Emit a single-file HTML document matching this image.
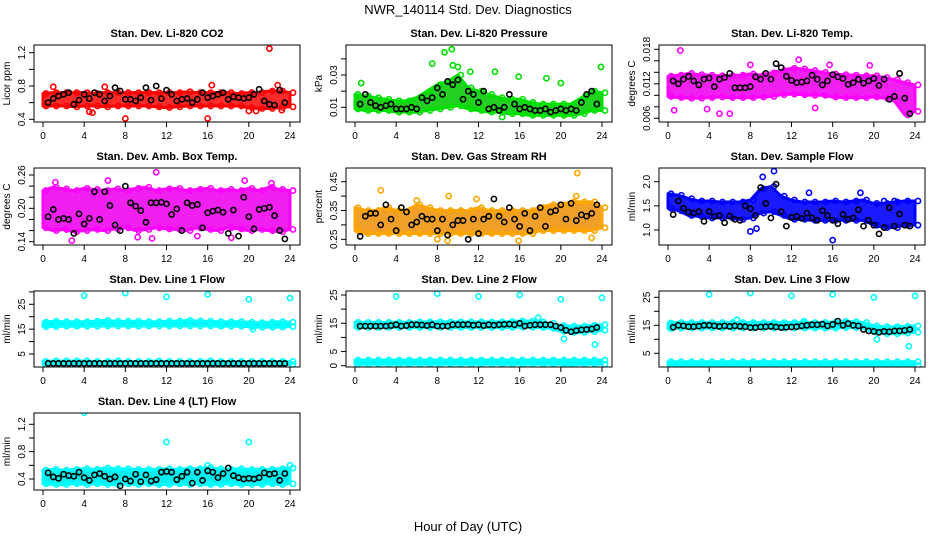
<!DOCTYPE html>
<html><head><meta charset="utf-8">
<style>
body{margin:0;background:#fff;}
svg{display:block;font-family:"Liberation Sans",sans-serif;}
</style></head>
<body>
<svg id="c" width="936" height="540" viewBox="0 0 936 540">
<text x="468" y="14" text-anchor="middle" font-size="13">NWR_140114 Std. Dev. Diagnostics</text>
<text x="468" y="531" text-anchor="middle" font-size="13">Hour of Day (UTC)</text>
</svg>
<script>
const bandHours=[0,1,2,3,4,5,6,7,8,9,10,11,12,13,14,15,16,17,18,19,20,21,22,23,24];
const blackHours=[0.5,1,1.5,2,2.5,3,3.5,4,4.5,5,5.5,6,6.5,7,7.5,8,8.5,9,9.5,10,10.5,11,11.5,12,12.5,13,13.5,14,14.5,15,15.5,16,16.5,17,17.5,18,18.5,19,19.5,20,20.5,21,21.5,22,22.5,23,23.5];
const xTicks=[0,4,8,12,16,20,24];

const co2Lo=[0.56,0.56,0.56,0.55,0.56,0.56,0.55,0.56,0.56,0.56,0.56,0.55,0.54,0.55,0.56,0.56,0.56,0.56,0.56,0.56,0.54,0.53,0.53,0.54,0.55];
const co2Hi=[0.71,0.72,0.72,0.72,0.72,0.71,0.72,0.72,0.72,0.72,0.72,0.72,0.72,0.72,0.73,0.72,0.72,0.72,0.72,0.71,0.72,0.72,0.74,0.74,0.72];
const co2OutH=[22,8,16,4.5,4.8,20,20.7,23.2,1,16.4,22.8,6];
const co2OutV=[1.25,0.41,0.41,0.49,0.48,0.5,0.5,0.51,0.79,0.81,0.81,0.79];
const co2Black=[0.6,0.65,0.68,0.7,0.72,0.58,0.63,0.7,0.65,0.72,0.7,0.62,0.68,0.78,0.74,0.64,0.64,0.62,0.66,0.78,0.63,0.8,0.65,0.75,0.7,0.62,0.64,0.65,0.6,0.64,0.72,0.66,0.68,0.7,0.72,0.64,0.67,0.66,0.65,0.66,0.7,0.76,0.62,0.58,0.57,0.75,0.6];
const prLo=[0.009,0.008,0.008,0.008,0.007,0.007,0.007,0.008,0.009,0.01,0.011,0.009,0.008,0.007,0.007,0.006,0.006,0.005,0.005,0.005,0.005,0.005,0.006,0.008,0.008];
const prHi=[0.018,0.017,0.016,0.015,0.014,0.014,0.016,0.02,0.024,0.026,0.03,0.022,0.02,0.018,0.016,0.015,0.015,0.013,0.012,0.012,0.012,0.012,0.016,0.02,0.019];
const prOutH=[8.7,9.4,9.5,7.5,10,13.6,11.2,15.9,18.6,23.9,14.3,20,0.6];
const prOutV=[0.044,0.046,0.036,0.037,0.035,0.032,0.032,0.029,0.028,0.035,0.004,0.025,0.025];
const prBlack=[0.012,0.018,0.013,0.011,0.01,0.011,0.012,0.009,0.009,0.009,0.01,0.009,0.016,0.014,0.016,0.022,0.018,0.026,0.024,0.027,0.015,0.02,0.018,0.013,0.02,0.009,0.01,0.008,0.01,0.018,0.012,0.009,0.01,0.009,0.008,0.008,0.009,0.007,0.008,0.009,0.008,0.009,0.008,0.013,0.018,0.02,0.012];
const tpLo=[0.0098,0.0096,0.0095,0.0095,0.0096,0.0097,0.0096,0.0096,0.0096,0.0097,0.0098,0.0101,0.0102,0.0101,0.01,0.01,0.0097,0.0096,0.0096,0.0096,0.0097,0.0095,0.009,0.0066,0.0072];
const tpHi=[0.0133,0.0135,0.0138,0.0136,0.0135,0.0134,0.0134,0.0135,0.0137,0.0135,0.0139,0.0143,0.0147,0.0146,0.0143,0.014,0.0137,0.0136,0.0135,0.0134,0.0134,0.0131,0.0127,0.0122,0.0118];
const tpOutH=[1.2,0.6,5,6,3.8,14.3,12.7,19.6,15.7,8];
const tpOutV=[0.0178,0.0074,0.0068,0.0068,0.0076,0.0078,0.0162,0.0152,0.0153,0.0153];
const tpBlack=[0.0125,0.012,0.0128,0.0133,0.0125,0.0118,0.0128,0.013,0.0115,0.0128,0.0131,0.0138,0.0113,0.0113,0.0113,0.0115,0.0132,0.0128,0.0138,0.0128,0.0155,0.0148,0.0133,0.0126,0.0122,0.0123,0.0125,0.0135,0.0128,0.0118,0.0125,0.0136,0.0132,0.0129,0.0119,0.0122,0.0128,0.0121,0.0125,0.0129,0.0117,0.0128,0.0093,0.0098,0.0138,0.0095,0.0068];
const abLo=[0.165,0.16,0.162,0.158,0.16,0.162,0.16,0.163,0.165,0.16,0.162,0.165,0.163,0.162,0.16,0.165,0.162,0.16,0.165,0.163,0.16,0.162,0.16,0.158,0.162];
const abHi=[0.232,0.238,0.235,0.232,0.236,0.234,0.232,0.235,0.232,0.236,0.238,0.232,0.235,0.236,0.232,0.234,0.236,0.232,0.234,0.232,0.236,0.232,0.238,0.234,0.232];
const abOutH=[11,2.8,10.6,9.2,15,19.6,6.3,1.2,22.2,18.3];
const abOutV=[0.265,0.142,0.146,0.148,0.15,0.25,0.25,0.247,0.245,0.147];
const abBlack=[0.185,0.198,0.18,0.182,0.18,0.155,0.19,0.172,0.182,0.23,0.18,0.23,0.205,0.17,0.16,0.24,0.21,0.204,0.196,0.175,0.21,0.21,0.211,0.208,0.189,0.199,0.16,0.21,0.205,0.207,0.165,0.192,0.195,0.197,0.193,0.155,0.197,0.15,0.22,0.185,0.163,0.198,0.2,0.202,0.187,0.16,0.145];
const rhLo=[0.28,0.27,0.27,0.27,0.27,0.27,0.27,0.27,0.27,0.27,0.27,0.27,0.27,0.27,0.27,0.27,0.27,0.27,0.28,0.28,0.28,0.28,0.28,0.28,0.29];
const rhHi=[0.36,0.35,0.35,0.36,0.35,0.35,0.37,0.36,0.35,0.35,0.35,0.35,0.36,0.35,0.35,0.35,0.35,0.35,0.36,0.37,0.37,0.38,0.38,0.38,0.36];
const rhOutH=[2.5,9.1,21.6,21.5,15.9,8,9,23,11.8,6];
const rhOutV=[0.42,0.40,0.48,0.40,0.245,0.25,0.245,0.255,0.39,0.385];
const rhBlack=[0.26,0.33,0.34,0.34,0.3,0.37,0.32,0.28,0.36,0.345,0.3,0.31,0.33,0.32,0.32,0.28,0.32,0.265,0.3,0.315,0.315,0.25,0.32,0.27,0.32,0.33,0.39,0.33,0.31,0.36,0.32,0.295,0.34,0.28,0.33,0.36,0.295,0.345,0.35,0.37,0.32,0.375,0.315,0.335,0.33,0.34,0.37];
const sfLo=[1.45,1.4,1.3,1.28,1.25,1.25,1.25,1.22,1.25,1.35,1.38,1.3,1.22,1.22,1.2,1.2,1.2,1.2,1.2,1.2,1.1,1.05,1.05,1.1,1.1];
const sfHi=[1.75,1.72,1.65,1.6,1.6,1.58,1.58,1.58,1.62,1.85,1.9,1.7,1.62,1.58,1.58,1.58,1.6,1.58,1.6,1.62,1.55,1.55,1.58,1.6,1.6];
const sfOutH=[9.2,10.3,16,8.6,8,13.7,18.7,21,22];
const sfOutV=[2.1,2.22,0.79,1.03,0.97,1.77,1.77,1.6,1.6];
const sfBlack=[1.32,1.6,1.45,1.37,1.35,1.38,1.18,1.38,1.28,1.3,1.15,1.29,1.22,1.2,1.5,1.44,1.3,1.88,1.55,1.25,1.95,1.38,1.08,1.26,1.28,1.24,1.35,1.25,1.2,1.4,1.3,1.2,1.13,1.32,1.22,1.25,1.42,1.08,1.2,1.1,0.92,1.05,1.46,1.08,1.33,1.1,1.08];
const l1Lo=[16,16,16.2,16.2,16.2,16.2,16.3,16.3,16.3,16.2,16.3,16.3,16.3,16.3,16.3,16.3,16.3,16.2,16.2,16.2,16,15.8,15.8,15.8,16];
const l1Hi=[17.8,18.2,18,18,18,18.2,18.5,18.2,18.2,18.2,18,18,18.2,18.2,18.5,18.3,18.2,18,18,18,17.8,17.6,17.8,18,17.8];
const l1LowLo=[0.8,0.8,0.8,0.8,0.8,0.8,0.8,0.8,0.8,0.8,0.8,0.8,0.8,0.8,0.8,0.8,0.8,0.8,0.8,0.8,0.8,0.8,0.8,0.8,0.8];
const l1LowHi=[2,2.2,2.2,2.2,2.2,2,2,2.2,2,2,2,2.2,2,2,2,2,2.2,2,2,2,2,2,2,2,2];
const l1OutH=[4,8,12,16,20,24,20.4,0.2];
const l1OutV=[28.5,29.5,28,29,27,27.5,15,1.8];
const l1Black=[1.2,1.2,1.2,1.2,1.2,1.2,1.2,1.2,1.2,1.2,1.2,1.2,1.2,1.2,1.2,1.2,1.2,1.2,1.2,1.2,1.2,1.2,1.2,1.2,1.2,1.2,1.2,1.2,1.2,1.2,1.2,1.2,1.2,1.2,1.2,1.2,1.2,1.2,1.2,1.2,1.2,1.2,1.2,1.2,1.2,1.2,1.2];
const l2Lo=[13.5,13.5,13.5,13.5,13.5,13.5,13.5,13.5,13.5,13.5,13.5,13.5,13.5,13.5,13.5,13.5,13.6,13.6,13.5,13.2,12.2,11.8,11.8,12,12.5];
const l2Hi=[15.3,15.3,15.3,15.3,15.3,15.3,15.5,15.5,15.5,15.5,15.5,15.5,15.5,15.5,15.5,15.6,15.8,15.8,15.5,15,14.2,14,14,14.3,14.5];
const l2LowLo=[0.5,0.5,0.5,0.5,0.5,0.5,0.5,0.5,0.5,0.5,0.5,0.5,0.5,0.5,0.5,0.5,0.5,0.5,0.5,0.5,0.5,0.3,0.5,0.5,0.5];
const l2LowHi=[2,2,2,2,2,2,2,2,2,2,2,2,2,2,2,2,2,2,2,2,2,2,2,2,2];
const l2OutH=[4,8,12,16,20,24,20.3,23.3,17.8];
const l2OutV=[24.5,25.5,24.5,25,23.5,24,9.5,7.5,17];
const l2Black=[14,14,14,14,14,14,14.2,14.5,14,14.2,14.5,14.5,14.4,14.2,14.5,14,14,14,14.5,14.5,14.5,14.6,14.3,14.5,14.2,14.5,14.3,14.5,14.6,14.7,14.5,15,14,14.3,14.5,14.5,14.5,14.5,14,13.5,12.5,12,12.4,12.7,12.8,13,13.5];
const l3Lo=[13.8,14,14,14,14,14,14,14,14,14,14,14,14,14,14,14,14,14.2,14.2,14,12.5,12,12,12.2,12.5];
const l3Hi=[15.8,16,16,16,16,16,16,16,16,16,16,16,16,16,16,16,16.2,16.4,16.3,16,14.8,14.5,14.5,14.6,14.8];
const l3LowLo=[0.6,0.6,0.6,0.6,0.6,0.6,0.6,0.6,0.6,0.6,0.6,0.6,0.6,0.6,0.6,0.6,0.6,0.6,0.6,0.6,0.6,0.6,0.6,0.6,0.6];
const l3LowHi=[2,2,2,2,2,2,2,2,2,2,2,2,2,2,2,2,2,2,2,2,2,2,2,2,2];
const l3OutH=[4,8,12,16,20,24,20.3,23.4,13.2,6.7];
const l3OutV=[26,26.5,25.5,26,25,25.5,10,7.5,16.5,17];
const l3Black=[14.3,15,14.8,14.5,14.5,14.7,15,15,14.8,14.6,14.8,14.6,14.8,14.6,14.5,14.2,14.2,14.4,14.5,14.6,14.4,14.2,14.3,14.4,14.5,14.8,15,15.2,15.2,15.4,14.8,15.3,16.5,15,15.6,15,14.8,13.5,13,12.8,12.5,12.8,12.7,13,13,13.2,13.5];
const l4Lo=[0.33,0.32,0.32,0.33,0.32,0.33,0.32,0.32,0.33,0.32,0.33,0.32,0.32,0.33,0.32,0.33,0.32,0.32,0.33,0.32,0.32,0.32,0.33,0.32,0.33];
const l4Hi=[0.53,0.54,0.53,0.54,0.55,0.54,0.56,0.55,0.55,0.54,0.54,0.54,0.55,0.54,0.55,0.55,0.57,0.55,0.54,0.55,0.54,0.54,0.54,0.55,0.56];
const l4OutH=[4,12,20,24,16];
const l4OutV=[1.37,0.94,0.94,0.6,0.6];
const l4Black=[0.49,0.43,0.41,0.47,0.45,0.44,0.5,0.42,0.38,0.46,0.48,0.44,0.4,0.43,0.3,0.4,0.37,0.47,0.36,0.46,0.37,0.39,0.5,0.51,0.5,0.39,0.44,0.5,0.34,0.5,0.38,0.52,0.5,0.42,0.48,0.56,0.45,0.42,0.4,0.41,0.4,0.42,0.49,0.47,0.48,0.38,0.48];

const colX0=[43,355,668], rowTop=[45,168,291,413], rowBot=[122,245,367,490];
const panels=[
 {name:'co2',title:'Stan. Dev. Li-820 CO2',ylab:'Licor ppm',c:0,r:0,col:'#ff0000',fill:'#ff2a2a',ref:[0.4,119.3,1.2,52.7],ticks:[0.4,0.6,0.8,1.0,1.2],labels:['0.4','','0.8','','1.2'],bands:[[co2Lo,co2Hi]],oh:co2OutH,ov:co2OutV,bk:co2Black},
 {name:'pressure',title:'Stan. Dev. Li-820 Pressure',ylab:'kPa',c:1,r:0,col:'#00e000',fill:'#22d022',ref:[0.01,107.3,0.03,75],ticks:[0.01,0.02,0.03,0.04],labels:['0.01','','0.03',''],bands:[[prLo,prHi]],oh:prOutH,ov:prOutV,bk:prBlack},
 {name:'temp',title:'Stan. Dev. Li-820 Temp.',ylab:'degrees C',c:2,r:0,col:'#ff00ff',fill:'#f020f0',ref:[0.006,118.3,0.018,49.3],ticks:[0.006,0.008,0.010,0.012,0.014,0.016,0.018],labels:['0.006','','','0.012','','','0.018'],bands:[[tpLo,tpHi]],oh:tpOutH,ov:tpOutV,bk:tpBlack},
 {name:'amb-box',title:'Stan. Dev. Amb. Box Temp.',ylab:'degrees C',c:0,r:1,col:'#ff00ff',fill:'#f020f0',ref:[0.14,241.7,0.26,175],ticks:[0.14,0.16,0.18,0.20,0.22,0.24,0.26],labels:['0.14','','','0.20','','','0.26'],bands:[[abLo,abHi]],oh:abOutH,ov:abOutV,bk:abBlack},
 {name:'rh',title:'Stan. Dev. Gas Stream RH',ylab:'percent',c:1,r:1,col:'#ffa500',fill:'#f0a028',ref:[0.25,239.3,0.45,181.7],ticks:[0.25,0.30,0.35,0.40,0.45],labels:['0.25','','0.35','','0.45'],bands:[[rhLo,rhHi]],oh:rhOutH,ov:rhOutV,bk:rhBlack},
 {name:'sample-flow',title:'Stan. Dev. Sample Flow',ylab:'ml/min',c:2,r:1,col:'#0000ff',fill:'#1a1aff',ref:[1.0,230,2.0,181.7],ticks:[1.0,1.5,2.0],labels:['1.0','1.5','2.0'],bands:[[sfLo,sfHi]],oh:sfOutH,ov:sfOutV,bk:sfBlack},
 {name:'line1',title:'Stan. Dev. Line 1 Flow',ylab:'ml/min',c:0,r:2,col:'#00ffff',fill:'#00f0f0',ref:[5,354,25,304.3],ticks:[5,10,15,20,25,30],labels:['5','','15','','25',''],bands:[[l1Lo,l1Hi],[l1LowLo,l1LowHi]],oh:l1OutH,ov:l1OutV,bk:l1Black},
 {name:'line2',title:'Stan. Dev. Line 2 Flow',ylab:'ml/min',c:1,r:2,col:'#00ffff',fill:'#00f0f0',ref:[0,365.7,25,295],ticks:[0,5,10,15,20,25],labels:['0','5','','15','','25'],bands:[[l2Lo,l2Hi],[l2LowLo,l2LowHi]],oh:l2OutH,ov:l2OutV,bk:l2Black},
 {name:'line3',title:'Stan. Dev. Line 3 Flow',ylab:'ml/min',c:2,r:2,col:'#00ffff',fill:'#00f0f0',ref:[5,353.3,25,297.3],ticks:[5,10,15,20,25],labels:['5','','15','','25'],bands:[[l3Lo,l3Hi],[l3LowLo,l3LowHi]],oh:l3OutH,ov:l3OutV,bk:l3Black},
 {name:'line4',title:'Stan. Dev. Line 4 (LT) Flow',ylab:'ml/min',c:0,r:3,col:'#00ffff',fill:'#00f0f0',ref:[0.4,479,1.2,424.3],ticks:[0.4,0.6,0.8,1.0,1.2],labels:['0.4','','0.8','','1.2'],bands:[[l4Lo,l4Hi]],oh:l4OutH,ov:l4OutV,bk:l4Black}
];
const NS='http://www.w3.org/2000/svg';
const svg=document.getElementById('c');
function mk(tag,attrs,parent){const e=document.createElementNS(NS,tag);for(const k in attrs)e.setAttribute(k,attrs[k]);(parent||svg).appendChild(e);return e;}
panels.forEach(p=>{
  const x0=colX0[p.c], sx=247/24;
  const xs=h=>x0+h*sx;
  const [v1,p1,v2,p2]=p.ref;
  const ys=v=>p1+(v-v1)*(p2-p1)/(v2-v1);
  const top=rowTop[p.r], bot=rowBot[p.r], left=x0-9, right=x0+257;
  const g=mk('g',{});
  
  
  const clip=mk('clipPath',{id:'cl-'+p.name},g);
  mk('rect',{x:left,y:top,width:right-left,height:bot-top},clip);
  const plot=mk('g',{'clip-path':'url(#cl-'+p.name+')'},g);
  
  
  p.bands.forEach(b=>{
    const [lo,hi]=b;
    let pts=bandHours.map((h,i)=>xs(h)+','+ys(hi[i]));
    pts=pts.concat(bandHours.map((h,i)=>xs(h)+','+ys(lo[i])).reverse());
    const pg=mk('polygon',{points:pts.join(' '),fill:p.fill,stroke:p.col,'stroke-width':3,'stroke-linejoin':'round'},plot);
    
    
    bandHours.forEach((h,i)=>{
      [hi[i],lo[i]].forEach(v=>{
        const c=mk('circle',{cx:xs(h)+3,cy:ys(v),r:2.6,fill:'none',stroke:p.col,'stroke-width':1.6},plot);
        
        
      });
    });
  });
  p.oh.forEach((h,i)=>{
    const c=mk('circle',{cx:xs(h),cy:ys(p.ov[i]),r:2.6,fill:'none',stroke:p.col,'stroke-width':1.6},plot);
    
    
  });
  p.bk.forEach((v,i)=>{
    const c=mk('circle',{cx:xs(blackHours[i]),cy:ys(v),r:2.6,fill:'none',stroke:'#000','stroke-width':1.6},plot);
    
    
  });
  const box=mk('rect',{x:left,y:top,width:right-left,height:bot-top,fill:'none',stroke:'#000','stroke-width':1},g);
  
  
  const t=mk('text',{x:(left+right)/2,y:top-8,'text-anchor':'middle','font-size':11,'font-weight':'bold'},g);
  t.textContent=p.title;
  
  
  xTicks.forEach(h=>{
    mk('line',{x1:xs(h),x2:xs(h),y1:bot,y2:bot+5,stroke:'#000'},g);
    const tl=mk('text',{x:xs(h),y:bot+17,'text-anchor':'middle','font-size':10},g);
    tl.textContent=h;
    
    
  });
  p.ticks.forEach((v,i)=>{
    const y=ys(v);
    mk('line',{x1:left-5,x2:left,y1:y,y2:y,stroke:'#000'},g);
    if(p.labels[i]){
      const tl=mk('text',{x:left-9,y:y,'text-anchor':'middle','font-size':10,transform:'rotate(-90 '+(left-9)+' '+y+')'},g);
      tl.textContent=p.labels[i];
      
      
    }
  });
  const yl=left-24, ym=(top+bot)/2;
  const ylt=mk('text',{x:yl,y:ym,'text-anchor':'middle','font-size':10,transform:'rotate(-90 '+yl+' '+ym+')'},g);
  ylt.textContent=p.ylab;
  
  
});
</script>
</body></html>
